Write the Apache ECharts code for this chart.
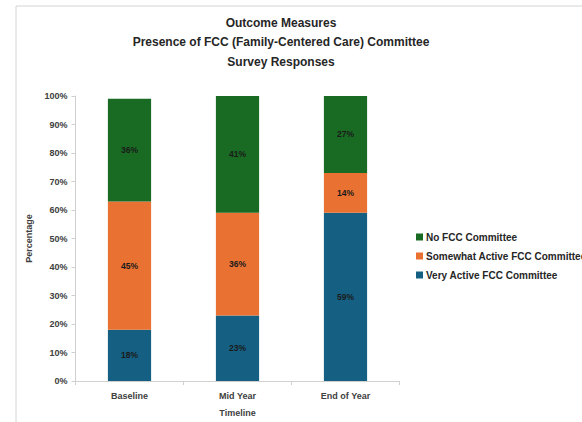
<!DOCTYPE html>
<html><head><meta charset="utf-8">
<script src="https://cdn.jsdelivr.net/npm/echarts@6/dist/echarts.min.js"></script>
<style>html,body{margin:0;padding:0;background:#fff}#c{width:582px;height:422px}</style>
</head><body><div id="c"></div>
<script>
const categories = ['Baseline', 'Mid Year', 'End of Year'];
const veryActive = [18, 23, 59];
const somewhatActive = [45, 36, 14];
const noCommittee = [36, 41, 27];
const yTicks = [0, 10, 20, 30, 40, 50, 60, 70, 80, 90, 100];

const chart = echarts.init(document.getElementById('c'), null, {renderer: 'svg'});
const font = 'Liberation Sans';
const lbl = {show: true, position: 'inside', formatter: '{c}%', fontFamily: font, fontSize: 8.5, fontWeight: 'bold', color: '#1a1a1a'};
chart.setOption({
  animation: false,
  textStyle: {fontFamily: font},
  graphic: [{type: 'rect', shape: {x: 16, y: 6, width: 700, height: 600}, style: {fill: 'none', stroke: '#d4d4d4', lineWidth: 1}}],
  title: {
    text: 'Outcome Measures\nPresence of FCC (Family-Centered Care) Committee\nSurvey Responses',
    left: 276, top: 8, textAlign: 'center',
    textStyle: {fontFamily: font, fontSize: 12, fontWeight: 'bold', color: '#262626', lineHeight: 19.5}
  },
  legend: {
    orient: 'vertical', left: 411, top: 227, itemWidth: 7, itemHeight: 7, itemGap: 9,
    icon: 'rect',
    data: ['No FCC Committee', 'Somewhat Active FCC Committee', 'Very Active FCC Committee'],
    textStyle: {fontFamily: font, fontSize: 10, fontWeight: 'bold', color: '#262626', padding: [0, 0, 0, -2]}
  },
  grid: {left: 75.5, top: 96, width: 324, height: 286, containLabel: false},
  xAxis: {
    type: 'category', data: categories,
    name: 'Timeline', nameLocation: 'middle', nameGap: 27,
    nameTextStyle: {fontFamily: font, fontSize: 9, fontWeight: 'bold', color: '#404040'},
    axisLine: {lineStyle: {color: '#d0d0d0'}},
    axisTick: {show: true, alignWithLabel: false, length: 4, lineStyle: {color: '#d0d0d0'}},
    axisLabel: {fontFamily: font, fontSize: 9, fontWeight: 'bold', color: '#404040', margin: 10}
  },
  yAxis: {
    type: 'value', min: 0, max: 100, interval: 10,
    name: 'Percentage', nameLocation: 'middle', nameGap: 38, nameRotate: 90,
    nameTextStyle: {fontFamily: font, fontSize: 9, fontWeight: 'bold', color: '#404040'},
    axisLine: {show: true, lineStyle: {color: '#d0d0d0'}},
    axisTick: {show: true, length: 4, lineStyle: {color: '#d0d0d0'}},
    splitLine: {show: false},
    axisLabel: {fontFamily: font, fontSize: 9, fontWeight: 'bold', color: '#404040', margin: 8,
      formatter: v => yTicks.includes(v) ? v + '%' : ''}
  },
  series: [
    {name: 'Very Active FCC Committee', type: 'bar', stack: 's', data: veryActive, barWidth: '40%', itemStyle: {color: '#156082'}, label: lbl},
    {name: 'Somewhat Active FCC Committee', type: 'bar', stack: 's', data: somewhatActive, itemStyle: {color: '#E97132'}, label: lbl},
    {name: 'No FCC Committee', type: 'bar', stack: 's', data: noCommittee, itemStyle: {color: '#196B24'}, label: lbl}
  ]
});
</script></body></html>
